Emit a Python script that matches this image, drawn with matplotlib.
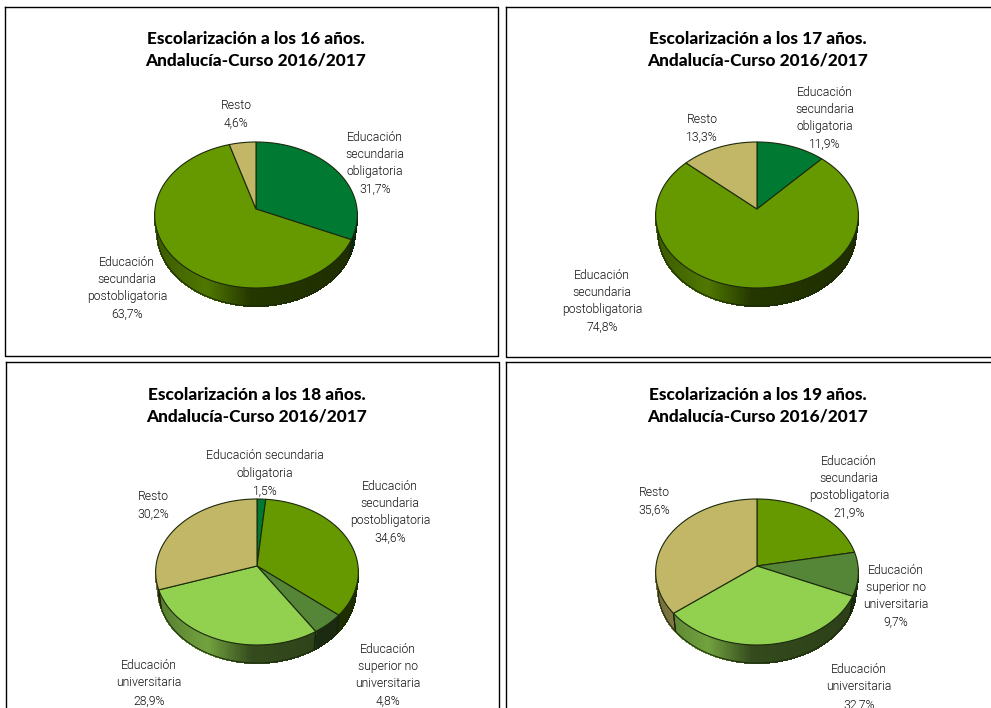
import numpy as np
import matplotlib
matplotlib.use("Agg")
import matplotlib.pyplot as plt
from matplotlib.colors import to_rgb

# Values (percent), clockwise from 12 o'clock
titles = ["Escolarización a los 16 años.", "Escolarización a los 17 años.",
          "Escolarización a los 18 años.", "Escolarización a los 19 años."]
subtitle = "Andalucía-Curso 2016/2017"

categories_16 = ["obligatoria", "postobligatoria", "resto"]
values_16 = [31.7, 63.7, 4.6]
categories_17 = ["obligatoria", "postobligatoria", "resto"]
values_17 = [11.9, 74.8, 13.3]
categories_18 = ["obligatoria_2", "postobligatoria", "superior", "universitaria", "resto"]
values_18 = [1.5, 34.6, 4.8, 28.9, 30.2]
categories_19 = ["postobligatoria", "superior", "universitaria", "resto"]
values_19 = [21.9, 9.7, 32.7, 35.6]

label_names = {
    "obligatoria": "Educación\nsecundaria\nobligatoria",
    "obligatoria_2": "Educación secundaria\nobligatoria",
    "postobligatoria": "Educación\nsecundaria\npostobligatoria",
    "superior": "Educación\nsuperior no\nuniversitaria",
    "universitaria": "Educación\nuniversitaria",
    "resto": "Resto",
}
colors = {
    "obligatoria": "#007A33",
    "obligatoria_2": "#007A33",
    "postobligatoria": "#669900",
    "superior": "#558536",
    "universitaria": "#92D050",
    "resto": "#C2B766",
}

W, H = 991, 708
RX, TOP, BOTTOM, DEPTH = 101.0, 67.0, 79.0, 18.0
RIM = 0.975  # lower rim of the wall is a bit narrower
K = (BOTTOM - TOP) / (BOTTOM + TOP)
B = TOP * (1 + K)


def project(theta):
    # perspective view of the unit circle, theta clockwise from the top
    u, v = np.sin(theta), np.cos(theta)
    w = 1 + K * v
    return RX * u / w, -B * v / w


def draw_pie(ax, cx, cy, cats, vals):
    edges = 2 * np.pi * np.cumsum([0] + list(vals)) / sum(vals)
    # side wall first
    for cat, a, b in zip(cats, edges[:-1], edges[1:]):
        th = np.linspace(a, b, max(int((b - a) * 90), 2))
        x, y = project(th)
        base = np.array(to_rgb(colors[cat]))
        for i in range(len(th) - 1):
            if np.cos((th[i] + th[i + 1]) / 2) > -0.05:
                continue
            # shading by the position along the visible wall
            s = (x[i] + RX) / (2 * RX)
            f = np.interp(s, [0, 0.25, 0.47, 1], [0.6, 0.78, 0.36, 0.3])
            ax.fill([cx + x[i], cx + x[i + 1], cx + x[i + 1] * RIM, cx + x[i] * RIM],
                    [cy + y[i], cy + y[i + 1], cy + y[i + 1] + DEPTH, cy + y[i] + DEPTH],
                    color=base * f, lw=0.8, antialiased=False, zorder=2)
        for t in (a, b):
            if np.cos(t) < -0.05:
                px, py = project(t)
                ax.plot([cx + px, cx + px * RIM], [cy + py, cy + py + DEPTH],
                        color="#14240a", lw=0.8, zorder=3)
    # outer lower edge of the wall
    th = np.linspace(np.pi / 2 + 0.05, 3 * np.pi / 2 - 0.05, 200)
    x, y = project(th)
    ax.plot(cx + x * RIM, cy + y + DEPTH, color="#1c2a0c", lw=0.7, zorder=3)
    # top face
    for cat, a, b in zip(cats, edges[:-1], edges[1:]):
        th = np.linspace(a, b, max(int((b - a) * 90), 2))
        x, y = project(th)
        ax.fill(np.r_[cx, cx + x], np.r_[cy, cy + y], facecolor=colors[cat],
                edgecolor="#1c2a0c", lw=0.8, zorder=4)


# panel frames: left, top, right, bottom in image pixels
frames = [(5, 7, 498, 356), (506, 7, 1000, 357), (6, 362, 499, 720), (506, 362, 1000, 720)]
centers = [(256, 209), (757, 209), (257, 566), (757, 566)]
title_x = [256, 758, 257, 758]
title_y = [39, 39, 395, 395]
pies = [(categories_16, values_16), (categories_17, values_17),
        (categories_18, values_18), (categories_19, values_19)]
# label centres for each slice, in image pixels
label_pos = [
    [(375, 163), (127, 288), (236, 114)],
    [(825, 118), (602, 301), (702, 128)],
    [(265, 473), (390, 512), (388, 675), (149, 683), (153, 505)],
    [(849, 487), (896, 596), (859, 687), (654, 501)],
]

fig = plt.figure(figsize=(W / 100, H / 100), dpi=100)
ax = fig.add_axes([0, 0, 1, 1])
ax.set_xlim(0, W)
ax.set_ylim(H, 0)
ax.axis("off")

for i, (l, t, r, b) in enumerate(frames):
    ax.plot([l, r, r, l, l], [t, t, b, b, t], color="black", lw=1.0, zorder=1)
    ax.text(title_x[i], title_y[i], titles[i], ha="center", va="center",
            fontsize=12.4, fontweight=900, family=["Lato", "DejaVu Sans"], color="black")
    ax.text(title_x[i], title_y[i] + 22, subtitle, ha="center", va="center",
            fontsize=12.4, fontweight=900, family=["Lato", "DejaVu Sans"], color="black")
    cats, vals = pies[i]
    draw_pie(ax, centers[i][0], centers[i][1], cats, vals)
    for cat, val, pos in zip(cats, vals, label_pos[i]):
        txt = label_names[cat] + "\n" + f"{val:.1f}%".replace(".", ",")
        ax.text(pos[0], pos[1], txt, ha="center", va="center", fontsize=8.8,
                family=["Roboto", "DejaVu Sans"], fontweight=300, color="#111111",
                linespacing=1.42, zorder=5)

fig.savefig("out.png", dpi=100)
